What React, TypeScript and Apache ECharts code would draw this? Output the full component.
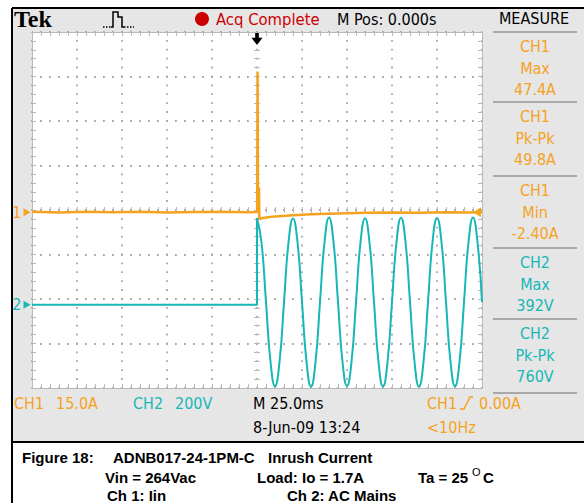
import React, { useEffect, useRef } from "react";
import * as echarts from "echarts";

// ---------- data read from the scope capture ----------
// time in ms (trigger at 0, 25 ms/div), CH1 current in A
const ch1Time = [-125, -110, -95, -80, -65, -50, -35, -20, -5, 0.1, 0.3, 0.5, 1.1, 1.3, 2.5, 5, 10, 20, 30, 45, 60, 75, 90, 105, 118, 125];
const ch1Amps = [0.2, -0.1, 0.2, 0.0, 0.2, -0.1, 0.1, 0.2, 0.0, 0.1, 47.4, 8.5, 8.0, -2.4, -2.0, -1.8, -1.4, -1.0, -0.7, -0.4, -0.2, -0.1, -0.2, 0.0, -0.1, 0.0];

// CH2 mains voltage (V): before switch-on, then the mains sine
const ch2PreTime = [-125, -90, -60, -30, 0, 0];
const ch2PreVolts = [0, 0, 0, 0, 0, 390];
const ch2Time = [0, 2.5, 5, 7.5, 10, 12.5, 15, 17.5, 20, 22.5, 25, 27.5, 30, 32.5, 35, 37.5, 40, 42.5, 45, 47.5, 50, 52.5, 55, 57.5, 60, 62.5, 65, 67.5, 70, 72.5, 75, 77.5, 80, 82.5, 85, 87.5, 90, 92.5, 95, 97.5, 100, 102.5, 105, 107.5, 110, 112.5, 115, 117.5, 120, 122.5, 125];
const ch2Volts = [390, 280, 12, -256, -366, -257, 11, 279, 388, 281, 13, -255, -368, -258, 12, 280, 392, 282, 12, -256, -365, -256, 10, 280, 389, 280, 12, -257, -367, -258, 12, 281, 391, 281, 13, -256, -368, -257, 12, 280, 390, 281, 12, -256, -366, -257, 11, 280, 392, 281, 12];

// measurement panel
const measureChannel = ["CH1", "CH1", "CH1", "CH2", "CH2"];
const measureName = ["Max", "Pk-Pk", "Min", "Max", "Pk-Pk"];
const measureValue = ["47.4A", "49.8A", "-2.40A", "392V", "760V"];

// scale settings
const T_MIN = -125;
const T_MAX = 125;
const T_DIV = 25;
const CH1_PER_DIV = 15;
const CH2_PER_DIV = 200;
const CH1_GND_DIV = -0.05;
const CH2_GND_DIV = -2.13;

const ORANGE = "#f5a21e";
const CYAN = "#18b7b7";
const RED = "#cc0000";
const GRAY_BG = "#e6e6e6";
const TICK = "#b9b9b9";
const DOT = "#a8a8a8";
const SCOPE_FONT = '"DejaVu Sans Condensed", "Liberation Sans Narrow", "DejaVu Sans", sans-serif';
const CAP_FONT = '"Liberation Sans", Arial, sans-serif';

const zip = (a: number[], b: number[]) => a.map((v, i) => [v, b[i]]);

function txt(text: string, x: number, y: number, fill: string, size: number, align = "left", family = SCOPE_FONT, weight = "normal") {
  return {
    type: "text",
    x,
    y,
    z: 20,
    style: { text, fill, fontSize: size, fontFamily: family, fontWeight: weight, textAlign: align, textVerticalAlign: "middle" },
  };
}

export default function App() {
  const ref = useRef<HTMLDivElement>(null);
  useEffect(() => {
    if (!ref.current) return;
    const chart = echarts.init(ref.current, undefined, { renderer: "svg" });

    const edgeTick = { show: true, inside: true, length: 4, lineStyle: { color: TICK, width: 1 } };
    const edgeMinor = { show: true, splitNumber: 5, length: 4, lineStyle: { color: TICK, width: 1 } };
    const centerTick = (inside: boolean) => ({ show: true, inside, length: 3, lineStyle: { color: TICK, width: 1 } });
    const centerMinor = { show: true, splitNumber: 5, length: 3, lineStyle: { color: TICK, width: 1 } };

    const xBase = { type: "value", min: T_MIN, max: T_MAX, interval: T_DIV, axisLabel: { show: false }, splitLine: { show: false } };
    const yBase = { type: "value", min: -4, max: 4, interval: 1, axisLabel: { show: false }, splitLine: { show: false } };

    const graphic: any[] = [
      { type: "rect", z: -10, shape: { x: 13, y: 9, width: 571, height: 433 }, style: { fill: GRAY_BG } },
      { type: "line", z: 30, shape: { x1: 12, y1: 8, x2: 584, y2: 8 }, style: { stroke: "#000", lineWidth: 2 } },
      { type: "line", z: 30, shape: { x1: 12, y1: 8, x2: 12, y2: 503 }, style: { stroke: "#000", lineWidth: 2 } },
      { type: "line", z: 30, shape: { x1: 12, y1: 442, x2: 584, y2: 442 }, style: { stroke: "#000", lineWidth: 2 } },
      txt("Tek", 14, 19, "#000", 24, "left", '"Liberation Serif", "DejaVu Serif", serif', "bold"),
      { type: "polyline", z: 20, shape: { points: [[103, 27], [111, 27]] }, style: { stroke: "#000", lineWidth: 1.5, lineDash: [1.5, 1.5], fill: null } },
      { type: "polyline", z: 20, shape: { points: [[111, 27], [113, 27], [113, 12], [118, 12], [118, 17], [122, 17], [122, 27], [124, 27]] }, style: { stroke: "#000", lineWidth: 1.5, fill: null } },
      { type: "polyline", z: 20, shape: { points: [[124, 27], [134, 27]] }, style: { stroke: "#000", lineWidth: 1.5, lineDash: [1.5, 1.5], fill: null } },
      { type: "circle", z: 20, shape: { cx: 202, cy: 19, r: 7 }, style: { fill: RED } },
      txt("Acq Complete", 216, 19, RED, 16.5),
      txt("M Pos: 0.000s", 337, 19, "#000", 16),
      txt("MEASURE", 534, 18, "#000", 16, "center"),
      // bottom status line
      txt("CH1", 14, 403, ORANGE, 16),
      txt("15.0A", 56, 403, ORANGE, 16),
      txt("CH2", 133, 403, CYAN, 16),
      txt("200V", 175, 403, CYAN, 16),
      txt("M 25.0ms", 253, 403, "#000", 16),
      txt("CH1", 427, 403, ORANGE, 16),
      { type: "polyline", z: 20, shape: { points: [[460, 409], [464, 409], [470, 397], [473, 397]] }, style: { stroke: ORANGE, lineWidth: 1.5, fill: null } },
      txt("0.00A", 479, 403, ORANGE, 16),
      txt("8-Jun-09 13:24", 253, 427, "#000", 16),
      txt("<10Hz", 427, 427, ORANGE, 16),
      // caption
      txt("Figure 18:", 22, 457, "#000", 15, "left", CAP_FONT, "bold"),
      txt("ADNB017-24-1PM-C", 113, 457, "#000", 15, "left", CAP_FONT, "bold"),
      txt("Inrush Current", 268, 457, "#000", 15, "left", CAP_FONT, "bold"),
      txt("Vin = 264Vac", 105, 477, "#000", 15, "left", CAP_FONT, "bold"),
      txt("Load: Io = 1.7A", 257, 477, "#000", 15, "left", CAP_FONT, "bold"),
      txt("Ta = 25", 418, 477, "#000", 15, "left", CAP_FONT, "bold"),
      txt("O", 472, 472, "#000", 11, "left", CAP_FONT, "normal"),
      txt("C", 483, 477, "#000", 15, "left", CAP_FONT, "bold"),
      txt("Ch 1: Iin", 107, 495, "#000", 15, "left", CAP_FONT, "bold"),
      txt("Ch 2: AC Mains", 287, 495, "#000", 15, "left", CAP_FONT, "bold"),
    ];

    const sepY = [32, 102, 176, 248, 319, 393];
    sepY.forEach((y) => {
      graphic.push({ type: "line", z: 20, shape: { x1: 493, y1: y, x2: 577, y2: y }, style: { stroke: "#a9a9a9", lineWidth: 2 } });
    });
    measureChannel.forEach((c, i) => {
      const col = c === "CH1" ? ORANGE : CYAN;
      const top = sepY[i];
      graphic.push(txt(c, 535, top + 14, col, 16, "center"));
      graphic.push(txt(measureName[i], 535, top + 36, col, 16, "center"));
      graphic.push(txt(measureValue[i], 535, top + 57, col, 16, "center"));
    });

    chart.setOption({
      animation: false,
      backgroundColor: "#ffffff",
      grid: { left: 32, top: 32, width: 450, height: 356, show: true, backgroundColor: "#ffffff", borderWidth: 0 },
      xAxis: [
        {
          ...xBase,
          position: "bottom",
          axisLine: { show: true, onZero: false, lineStyle: { color: TICK } },
          axisTick: edgeTick,
          minorTick: edgeMinor,
          splitLine: { show: true, lineStyle: { color: DOT, width: 1.8, type: [1.8, 7.1], dashOffset: 0.9 } },
        },
        { ...xBase, position: "top", axisLine: { show: true, onZero: false, lineStyle: { color: TICK } }, axisTick: edgeTick, minorTick: edgeMinor },
        { ...xBase, position: "bottom", axisLine: { show: false, onZero: true, onZeroAxisIndex: 0 }, axisTick: centerTick(true), minorTick: centerMinor },
        { ...xBase, position: "bottom", axisLine: { show: false, onZero: true, onZeroAxisIndex: 0 }, axisTick: centerTick(false), minorTick: centerMinor },
      ],
      yAxis: [
        {
          ...yBase,
          position: "left",
          axisLine: { show: true, onZero: false, lineStyle: { color: TICK } },
          axisTick: edgeTick,
          minorTick: edgeMinor,
          splitLine: { show: true, lineStyle: { color: DOT, width: 1.8, type: [1.8, 7.2], dashOffset: 0.9 } },
        },
        { ...yBase, position: "right", axisLine: { show: true, onZero: false, lineStyle: { color: TICK } }, axisTick: edgeTick, minorTick: edgeMinor },
        { ...yBase, position: "left", axisLine: { show: false, onZero: true, onZeroAxisIndex: 0 }, axisTick: centerTick(true), minorTick: centerMinor },
        { ...yBase, position: "left", axisLine: { show: false, onZero: true, onZeroAxisIndex: 0 }, axisTick: centerTick(false), minorTick: centerMinor },
        { type: "value", show: false, min: (-4 - CH1_GND_DIV) * CH1_PER_DIV, max: (4 - CH1_GND_DIV) * CH1_PER_DIV, splitLine: { show: false } },
        { type: "value", show: false, min: (-4 - CH2_GND_DIV) * CH2_PER_DIV, max: (4 - CH2_GND_DIV) * CH2_PER_DIV, splitLine: { show: false } },
      ],
      graphic,
      series: [
        {
          type: "line",
          name: "CH2 pre",
          xAxisIndex: 0,
          yAxisIndex: 5,
          z: 2,
          data: zip(ch2PreTime, ch2PreVolts),
          symbol: "none",
          lineStyle: { color: CYAN, width: 2 },
          markPoint: {
            silent: true,
            animation: false,
            data: [
              {
                coord: [T_MIN, 0],
                symbol: "path://M0,0L10,5L0,10Z",
                symbolSize: [7, 8],
                symbolOffset: [-5, 0],
                itemStyle: { color: CYAN },
                label: { show: true, formatter: "2", position: "left", distance: 2, color: CYAN, fontSize: 16, fontFamily: SCOPE_FONT },
              },
            ],
          },
        },
        {
          type: "line",
          name: "CH2",
          xAxisIndex: 0,
          yAxisIndex: 5,
          z: 2,
          smooth: 0.5,
          data: zip(ch2Time, ch2Volts),
          symbol: "none",
          lineStyle: { color: CYAN, width: 2 },
        },
        {
          type: "line",
          name: "CH1",
          xAxisIndex: 0,
          yAxisIndex: 4,
          z: 3,
          data: zip(ch1Time, ch1Amps),
          symbol: "none",
          lineStyle: { color: ORANGE, width: 2.5 },
          markPoint: {
            silent: true,
            animation: false,
            data: [
              {
                coord: [T_MIN, 0],
                symbol: "path://M0,0L10,5L0,10Z",
                symbolSize: [7, 8],
                symbolOffset: [-5, 0],
                itemStyle: { color: ORANGE },
                label: { show: true, formatter: "1", position: "left", distance: 2, color: ORANGE, fontSize: 16, fontFamily: SCOPE_FONT },
              },
              {
                coord: [T_MAX, 0],
                symbol: "path://M10,0L0,5L10,10Z",
                symbolSize: [8, 10],
                symbolOffset: [-5, 0],
                itemStyle: { color: ORANGE },
                label: { show: false },
              },
              {
                coord: [0, (4 - CH1_GND_DIV) * CH1_PER_DIV],
                symbol: "path://M3,0L6,0L6,4L9,4L4.5,10L0,4L3,4Z",
                symbolSize: [11, 12],
                symbolOffset: [0, 7],
                itemStyle: { color: "#000" },
                label: { show: false },
              },
            ],
          },
        },
      ],
    });
    return () => chart.dispose();
  }, []);
  return <div ref={ref} style={{ position: "fixed", left: 0, top: 0, width: 584, height: 503, background: "#fff" }} />;
}
